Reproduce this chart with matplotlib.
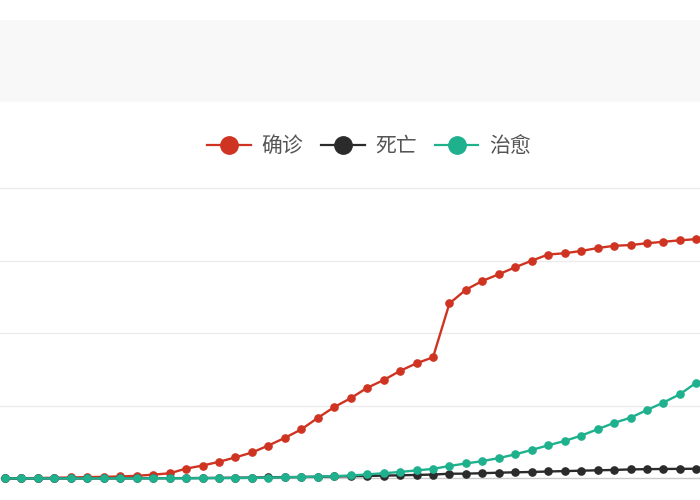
import matplotlib
matplotlib.use('Agg')
import matplotlib.pyplot as plt
from matplotlib.lines import Line2D
from matplotlib.patches import Rectangle

plt.rcParams['font.family'] = ['Noto Sans CJK SC', 'DejaVu Sans']

# 01-16 ... 02-27
dates = ['01-%02d' % d for d in range(16, 32)] + ['02-%02d' % d for d in range(1, 28)]

confirmed = [45, 62, 121, 198, 270, 375, 444, 549, 729, 1052, 1423, 2714, 3554,
             4586, 5806, 7153, 9074, 11177, 13522, 16678, 19665, 22112, 24953,
             27100, 29631, 31728, 33366, 48206, 51986, 54406, 56249, 58182,
             59989, 61682, 62031, 62662, 63454, 64084, 64287, 64786, 65187,
             65596, 65914]
deaths = [2, 2, 3, 3, 6, 9, 17, 24, 39, 52, 76, 100, 125, 162, 204, 249, 294,
          350, 414, 479, 549, 618, 699, 780, 871, 974, 1068, 1310, 1318, 1457,
          1596, 1696, 1789, 1921, 2029, 2144, 2250, 2346, 2495, 2563, 2615,
          2641, 2682]
cured = [15, 19, 24, 25, 25, 28, 28, 31, 32, 42, 44, 47, 80, 90, 116, 166, 215,
         295, 396, 520, 633, 817, 1115, 1439, 1795, 2222, 2639, 3441, 4131,
         4774, 5623, 6639, 7862, 9128, 10337, 11788, 13557, 15299, 16738,
         18854, 20912, 23200, 26403]

labels = ['确诊', '死亡', '治愈']
colors = ['#cf3423', '#2b2b2b', '#1fb18e']
gridlines = [20000, 40000, 60000, 80000]

fig = plt.figure(figsize=(7, 5), dpi=100)
fig.patches.append(Rectangle((0, 0.797), 1, 0.163, transform=fig.transFigure,
                             facecolor='#f8f8f8', edgecolor='none', zorder=0))

ax = fig.add_axes([0, 0, 1, 312 / 500])
ax.axis('off')
ax.set_xlim(-0.304, 42.22)
ax.set_ylim(-5931, 80000)

for g in gridlines:
    ax.axhline(g, color='#ebebeb', lw=1, zorder=1, clip_on=False)
ax.axhline(0, color='#cccccc', lw=1, zorder=1)

x = list(range(len(dates)))
handles = []
for series, c, lab in zip([confirmed, deaths, cured], colors, labels):
    ax.plot(x, series, color=c, lw=1.7, marker='o', markersize=5.2, zorder=3)
    handles.append(Line2D([0], [0], color=c, lw=1.6, marker='o', markersize=12.5))

fig.legend(handles, labels, loc='center', bbox_to_anchor=(369 / 700, 0.708),
           ncol=3, frameon=False, fontsize=15, handlelength=2.1,
           handletextpad=0.5, columnspacing=0.85, labelcolor='#555555')

fig.savefig('out.png', dpi=100)
